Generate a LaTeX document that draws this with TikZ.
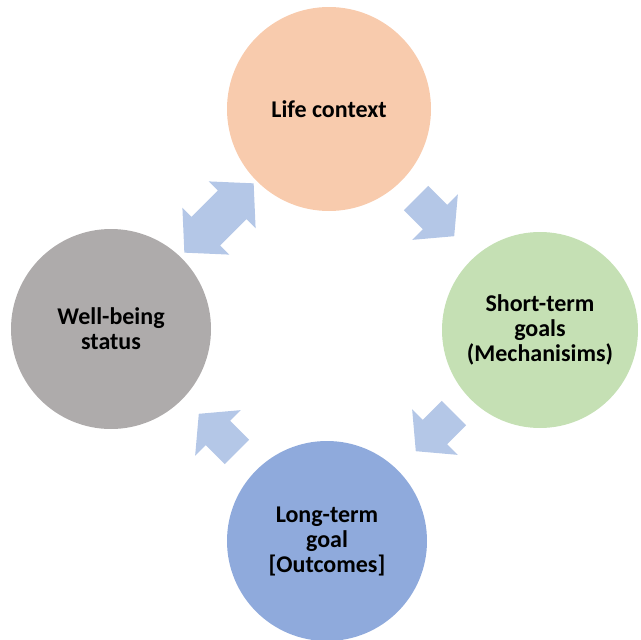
\documentclass[tikz,border=0pt]{standalone}
\usepackage{fontspec}
\setmainfont{Carlito}
\usetikzlibrary{shapes.arrows}
\definecolor{cOrange}{HTML}{F8CBAD}
\definecolor{cGreen}{HTML}{C5E0B4}
\definecolor{cBlue}{HTML}{8FAADC}
\definecolor{cGrey}{HTML}{AEABAB}
\definecolor{cArrow}{HTML}{B4C7E7}
\tikzset{
  stage/.style={circle, inner sep=0pt, minimum size=#1, align=center,
    font=\bfseries\fontsize{24}{25}\selectfont, text=black},
  sarrow/.style={single arrow, fill=cArrow, draw=none, inner xsep=0pt, inner ysep=17pt,
    minimum height=54pt, minimum width=64pt, single arrow head extend=15pt,
    single arrow tip angle=100},
  darrow/.style={double arrow, fill=cArrow, draw=none, inner xsep=0pt, inner ysep=20pt,
    minimum height=98pt, minimum width=66pt, double arrow head extend=13pt,
    double arrow tip angle=95},
}
\begin{document}
\begin{tikzpicture}[x=1pt,y=-1pt]
\useasboundingbox (0,0) rectangle (641,640);
\node[stage=204pt, fill=cOrange] (life) at (329,109) {Life context};
\node[stage=196pt, fill=cGreen] (short) at (540,330) {Short-term\\goals\\(Mechanisims)};
\node[stage=200pt, fill=cBlue] (long) at (327,541) {Long-term\\goal\\{[}Outcomes{]}};
\node[stage=200pt, fill=cGrey] (well) at (111,329) {Well-being\\status};
\node[darrow, rotate=45] (a1) at (219,218) {};
\node[sarrow, rotate=-45] (a2) at (430,212) {};
\node[sarrow, rotate=-135] (a3) at (440,427) {};
\node[sarrow, rotate=135] (a4) at (223,438) {};
\end{tikzpicture}
\end{document}
